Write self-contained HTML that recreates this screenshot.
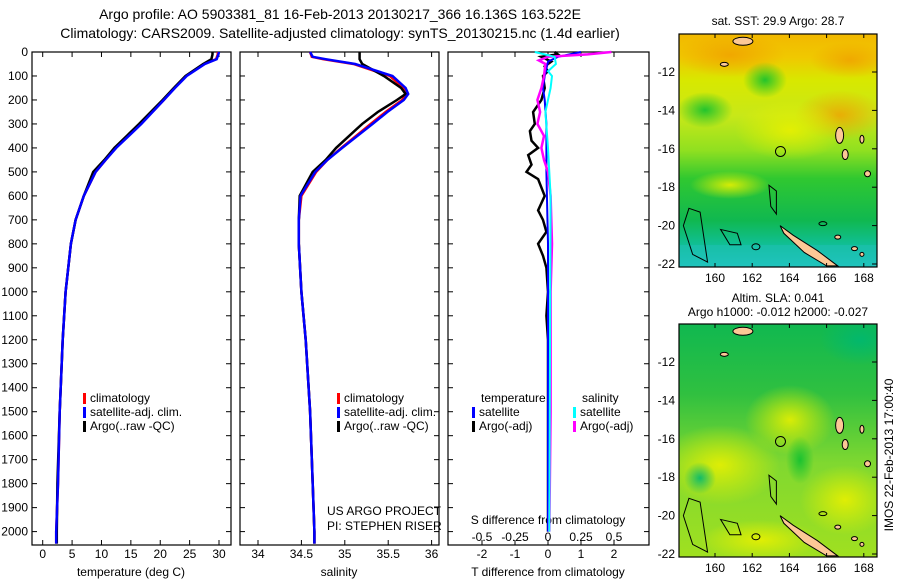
<!DOCTYPE html>
<html><head><meta charset="utf-8"><style>
body{margin:0;background:#fff;}
svg{display:block;font-family:"Liberation Sans",sans-serif;}
</style></head><body>
<svg id="fig" width="900" height="580" viewBox="0 0 900 580">
<defs>
<linearGradient id="sstg" x1="0" y1="0" x2="0" y2="1">
<stop offset="0" stop-color="#f2b800"/><stop offset="0.1" stop-color="#f0c800"/><stop offset="0.2" stop-color="#d8e800"/>
<stop offset="0.35" stop-color="#c8e818"/><stop offset="0.5" stop-color="#90e020"/><stop offset="0.62" stop-color="#30c830"/>
<stop offset="0.8" stop-color="#10b850"/><stop offset="0.92" stop-color="#10c0a0"/><stop offset="1" stop-color="#20c8d0"/></linearGradient>
<linearGradient id="slag" x1="0" y1="0" x2="0" y2="1">
<stop offset="0" stop-color="#10b850"/><stop offset="0.3" stop-color="#30c040"/><stop offset="0.6" stop-color="#80d830"/><stop offset="1" stop-color="#a0e020"/></linearGradient>
<radialGradient id="yb"><stop offset="0" stop-color="#e8f000" stop-opacity="0.9"/><stop offset="1" stop-color="#e8f000" stop-opacity="0"/></radialGradient>
<radialGradient id="ob"><stop offset="0" stop-color="#f0a000" stop-opacity="0.8"/><stop offset="1" stop-color="#f0a000" stop-opacity="0"/></radialGradient>
<radialGradient id="gb"><stop offset="0" stop-color="#10c030" stop-opacity="0.9"/><stop offset="1" stop-color="#10c030" stop-opacity="0"/></radialGradient>
<radialGradient id="cb"><stop offset="0" stop-color="#00b870" stop-opacity="0.9"/><stop offset="1" stop-color="#00b870" stop-opacity="0"/></radialGradient>
<clipPath id="c1"><rect x="679" y="34" width="198" height="233"/></clipPath>
<clipPath id="c2"><rect x="679" y="324" width="198" height="233"/></clipPath>
</defs>
<g id="titles" font-size="14" text-anchor="middle">
<text x="340" y="19">Argo profile: AO 5903381_81 16-Feb-2013 20130217_366 16.136S 163.522E</text>
<text x="340" y="38">Climatology: CARS2009. Satellite-adjusted climatology: synTS_20130215.nc (1.4d earlier)</text>
</g>
<g id="maps">
<g clip-path="url(#c1)">
<rect x="679" y="34" width="198" height="233" fill="url(#sstg)"/>
<ellipse cx="840" cy="115" rx="45" ry="25" fill="url(#ob)"/>
<ellipse cx="730" cy="55" rx="55" ry="22" fill="url(#ob)"/>
<ellipse cx="850" cy="60" rx="40" ry="18" fill="url(#ob)"/>
<ellipse cx="790" cy="130" rx="55" ry="30" fill="url(#yb)"/>
<ellipse cx="765" cy="80" rx="22" ry="18" fill="url(#gb)"/>
<ellipse cx="705" cy="110" rx="28" ry="18" fill="url(#gb)"/>
<ellipse cx="730" cy="185" rx="40" ry="14" fill="url(#yb)"/>
<rect x="679" y="245" width="198" height="22" fill="#20c0b0" opacity="0.6"/>
</g>
<g clip-path="url(#c2)">
<rect x="679" y="324" width="198" height="233" fill="url(#slag)"/>
<ellipse cx="860" cy="340" rx="40" ry="25" fill="url(#cb)"/>
<ellipse cx="720" cy="465" rx="60" ry="40" fill="url(#yb)"/>
<ellipse cx="790" cy="420" rx="45" ry="35" fill="url(#yb)"/>
<ellipse cx="845" cy="500" rx="45" ry="35" fill="url(#yb)"/>
<ellipse cx="700" cy="478" rx="16" ry="16" fill="url(#cb)"/>
<ellipse cx="800" cy="460" rx="14" ry="24" fill="url(#gb)"/>
<ellipse cx="760" cy="540" rx="60" ry="20" fill="url(#yb)"/>
</g>
</g>
<g id="panels"></g>
<g id="maptext" font-size="12">
<text x="778" y="25" text-anchor="middle">sat. SST: 29.9 Argo: 28.7</text>
<text x="778" y="302" text-anchor="middle">Altim. SLA: 0.041</text>
<text x="778" y="316" text-anchor="middle">Argo h1000: -0.012 h2000: -0.027</text>
<text transform="translate(893,455) rotate(-90)" text-anchor="middle">IMOS 22-Feb-2013 17:00:40</text>
</g>
</svg>
<script>
const depthT = [0,10,30,50,100,150,200,300,400,450,500,600,700,800,1000,1200,1500,1800,2000,2050];
const tempClim = [29.8,29.8,29.5,27.5,24.4,22.4,20.6,16.7,12.4,10.7,9.0,7.0,5.6,4.8,3.9,3.4,2.9,2.6,2.3,2.3];
const tempSat  = [30.0,29.9,29.6,27.6,24.5,22.5,20.6,16.8,12.5,10.7,9.0,7.0,5.6,4.8,3.9,3.4,2.9,2.6,2.3,2.3];
const tempArgo = [28.9,28.9,28.7,27.3,24.3,22.3,20.4,16.4,12.2,10.5,8.6,7.0,5.6,4.8,3.9,3.4,2.9,2.5,2.4,2.4];
const depthS = [0,20,30,50,100,150,175,200,250,300,400,450,500,600,700,800,1000,1200,1500,1800,2000,2050];
const salClim = [34.6,34.62,34.75,35.1,35.52,35.68,35.71,35.66,35.47,35.3,34.96,34.8,34.67,34.5,34.47,34.47,34.5,34.55,34.6,34.63,34.65,34.65];
const salSat  = [34.6,34.63,34.78,35.12,35.55,35.7,35.73,35.68,35.49,35.32,34.97,34.8,34.66,34.49,34.47,34.47,34.5,34.55,34.6,34.63,34.65,34.65];
const salArgo = [35.17,35.17,35.17,35.2,35.45,35.65,35.7,35.6,35.38,35.2,34.9,34.78,34.63,34.48,34.47,34.47,34.5,34.55,34.6,34.63,34.65,34.65];
const depthD1 = [0,20,40,100,150,200,300,500,800,2000];
const dTsat = [1.0,0.3,0.0,-0.1,-0.15,-0.1,-0.05,-0.05,0,0];
const depthD2 = [0,10,20,40,60,80,100,150,200,250,300,330,370,400,430,470,500,530,600,660,700,750,800,850,900,1000,1100,1200,1500,2000];
const dTargo = [0.2,0.3,-0.2,0.1,-0.1,0,-0.15,-0.1,-0.2,-0.45,-0.4,-0.55,-0.5,-0.3,-0.6,-0.5,-0.65,-0.3,-0.1,-0.3,-0.15,-0.05,-0.3,-0.15,-0.05,0,-0.05,0,0,0];
const depthD3 = [0,20,50,80,100,150,250,400,600,2000];
const dSsat = [-0.1,0.05,0.06,0.0,0.03,0.02,-0.02,0,0.02,0.01];
const depthD4 = [0,10,20,35,50,100,150,200,250,300,350,400,450,500,600,800,1000,1500,2000];
const dSargo = [0.48,0.3,0.0,-0.07,-0.02,-0.03,-0.05,-0.08,-0.06,-0.08,-0.03,-0.05,-0.03,0.0,0.02,0.03,0.02,0.02,0.01];
const depthTicks = [0,100,200,300,400,500,600,700,800,900,1000,1100,1200,1300,1400,1500,1600,1700,1800,1900,2000];
const tTicks = [0,5,10,15,20,25,30];
const sTicks = [34,34.5,35,35.5,36];
const dtTicks = [-2,-1,0,1,2];
const dtLabels = ['-2','-1','0','1','2'];
const dsTicks = [-0.5,-0.25,0,0.25,0.5];
const latTicks = [-12,-14,-16,-18,-20,-22];
const lonTicks = [160,162,164,166,168];

const NS='http://www.w3.org/2000/svg';
const G=document.getElementById('panels');
function mk(tag,attrs,parent){const e=document.createElementNS(NS,tag);for(const k in attrs)e.setAttribute(k,attrs[k]);(parent||G).appendChild(e);return e;}
const yD=d=>52+d*0.2398;
const xT=t=>42.7+t*5.877;
const xS=s=>258+(s-34)*86.8;
const xdT=t=>548+t*33;
const xdS=s=>548+s*132;
const BOT=545;
function line(depths,vals,xf,color,w,name){
  const p=mk('polyline',{points:depths.map((d,i)=>xf(vals[i]).toFixed(1)+','+yD(d).toFixed(1)).join(' '),fill:'none',stroke:color,'stroke-width':w});
  
  
}
function frame(x0,x1,name){
  const r=mk('rect',{x:x0,y:52,width:x1-x0,height:BOT-52,fill:'none',stroke:'#000','stroke-width':1.2});
  
  
  depthTicks.forEach(d=>{mk('line',{x1:x0,x2:x0+5,y1:yD(d),y2:yD(d),stroke:'#000'});mk('line',{x1:x1,x2:x1-5,y1:yD(d),y2:yD(d),stroke:'#000'});});
}
function xticks(ticks,labels,xf,y,top){
  ticks.forEach((t,i)=>{const x=xf(t);
    mk('line',{x1:x,x2:x,y1:BOT,y2:BOT-5,stroke:'#000'});
    if(top) mk('line',{x1:x,x2:x,y1:52,y2:57,stroke:'#000'});
    const tx=mk('text',{x:x,y:y,'text-anchor':'middle','font-size':12});tx.textContent=labels[i];
    
    
  });
}
function txt(x,y,s,name,anchor,parent){const t=mk('text',{x:x,y:y,'font-size':12,'text-anchor':anchor||'start'},parent);t.textContent=s;
  
  return t;}

frame(32,231,'temperature-panel');
depthTicks.forEach(d=>{txt(28,yD(d)+4,String(d),'y-tick-label','end');});
xticks(tTicks,tTicks.map(String),xT,558,true);
txt(131,576,'temperature (deg C)','x-axis-title-temperature','middle');
line(depthT,tempClim,xT,'#f00',2.5,'temp-climatology-line');
line(depthT,tempArgo,xT,'#000',2.5,'temp-argo-line');
line(depthT,tempSat,xT,'#00f',2.5,'temp-satellite-line');
frame(240,439,'salinity-panel');
xticks(sTicks,sTicks.map(String),xS,558,true);
txt(339,576,'salinity','x-axis-title-salinity','middle');
line(depthS,salClim,xS,'#f00',2.5,'sal-climatology-line');
line(depthS,salArgo,xS,'#000',2.5,'sal-argo-line');
line(depthS,salSat,xS,'#00f',2.5,'sal-satellite-line');
frame(448,649,'difference-panel');
xticks(dtTicks,dtLabels,xdT,558,false);
dsTicks.forEach(s=>mk('line',{x1:xdS(s),x2:xdS(s),y1:52,y2:57,stroke:'#000'}));
dsTicks.forEach(s=>{txt(xdS(s),541,String(s),'s-tick-label','middle');});
txt(548,524,'S difference from climatology','s-axis-title','middle');
txt(548,576,'T difference from climatology','t-axis-title','middle');
line(depthD2,dTargo,xdT,'#000',2.5,'dt-argo-line');
line(depthD1,dTsat,xdT,'#00f',2,'dt-satellite-line');
line(depthD4,dSargo,xdS,'#f0f',2.5,'ds-argo-line');
line(depthD3,dSsat,xdS,'#0ff',2,'ds-satellite-line');

function leg(x,y,color,label,name){mk('rect',{x:x,y:y-9,width:3,height:11,fill:color});txt(x+7,y,label,name);}
[['climatology','#f00'],['satellite-adj. clim.','#00f'],['Argo(..raw -QC)','#000']].forEach((l,i)=>leg(83,402+i*14,l[1],l[0],'legend-entry'));
[['climatology','#f00'],['satellite-adj. clim.','#00f'],['Argo(..raw -QC)','#000']].forEach((l,i)=>leg(337,402+i*14,l[1],l[0],'legend-entry'));
txt(481,402,'temperature','legend-heading-temperature');
leg(472,416,'#00f','satellite','legend-entry');
leg(472,430,'#000','Argo(-adj)','legend-entry');
txt(582,402,'salinity','legend-heading-salinity');
leg(573,416,'#0ff','satellite','legend-entry');
leg(573,430,'#f0f','Argo(-adj)','legend-entry');
txt(327,515,'US ARGO PROJECT','project-label');
txt(327,530,'PI: STEPHEN RISER','pi-label');

const xL=l=>715+(l-160)*18.6;
[[34,72,'c1'],[324,362,'c2']].forEach(([top,y12,cp])=>{
  const yL=la=>y12+(-12-la)*19.2;
  const g=mk('g',{'clip-path':'url(#'+cp+')'});
  mk('polygon',{points:[[163.5,-20],[164.2,-20.5],[165.5,-21.3],[166.6,-22.1],[166.0,-22.1],[164.8,-21.4],[163.7,-20.4]].map(p=>xL(p[0])+','+yL(p[1])).join(' '),fill:'#fcc896',stroke:'#000','stroke-width':1},g);
  [[161.5,-10.4,10,4],[166.7,-15.3,4,8],[167.0,-16.3,3,5],[168.2,-17.3,3,3],[167.9,-15.5,2,4],[160.5,-11.6,4,2],[166.6,-20.6,3,2],[167.5,-21.2,3,2],[167.9,-21.5,2,2]].forEach(e=>mk('ellipse',{cx:xL(e[0]),cy:yL(e[1]),rx:e[2],ry:e[3],fill:'#fcc896',stroke:'#000','stroke-width':1},g));
  mk('path',{d:`M${xL(158.6)},${yL(-19.1)} L${xL(159.2)},${yL(-19.3)} L${xL(159.6)},${yL(-21.9)} L${xL(158.8)},${yL(-21.5)} L${xL(158.3)},${yL(-20)} Z`,fill:'none',stroke:'#000','stroke-width':1},g);
  mk('path',{d:`M${xL(162.9)},${yL(-17.9)} L${xL(163.3)},${yL(-18.2)} L${xL(163.3)},${yL(-19.4)} L${xL(163.0)},${yL(-19.0)} Z`,fill:'none',stroke:'#000','stroke-width':1},g);
  mk('path',{d:`M${xL(160.3)},${yL(-20.2)} L${xL(161.2)},${yL(-20.4)} L${xL(161.4)},${yL(-21.0)} L${xL(160.8)},${yL(-21.0)} Z`,fill:'none',stroke:'#000','stroke-width':1},g);
  mk('ellipse',{cx:xL(165.8),cy:yL(-19.9),rx:4,ry:2,fill:'none',stroke:'#000'},g);
  mk('ellipse',{cx:xL(162.2),cy:yL(-21.1),rx:4,ry:3,fill:'none',stroke:'#000'},g);
  const c=mk('circle',{cx:xL(163.52),cy:yL(-16.14),r:5,fill:'none',stroke:'#000','stroke-width':1},g);
  
  
  const fr=mk('rect',{x:679,y:top,width:198,height:233,fill:'none',stroke:'#000','stroke-width':1.2});
  
  
  latTicks.forEach(la=>{const y=yL(la);mk('line',{x1:877,x2:872,y1:y,y2:y,stroke:'#000'});
    if(y<top+233+2) txt(675,y+4,String(la),'lat-tick-label','end');});
  lonTicks.forEach(lo=>{const x=xL(lo);mk('line',{x1:x,x2:x,y1:top,y2:top+4,stroke:'#000'});mk('line',{x1:x,x2:x,y1:top+233,y2:top+229,stroke:'#000'});
    txt(x,top+248,String(lo),'lon-tick-label','middle');});
});
</script>
</body></html>
